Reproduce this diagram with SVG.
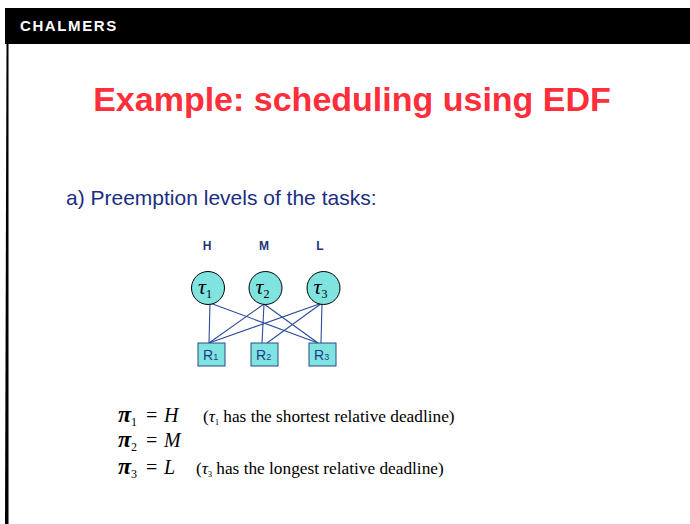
<svg xmlns="http://www.w3.org/2000/svg" width="690" height="524" viewBox="0 0 690 524">
<style>
.node circle, .node ellipse{fill:#7FE3E0;stroke:#000;stroke-width:1}
.box{fill:#7FE3E0;stroke:#2A4B8B;stroke-width:1}
.tau{font-family:"Liberation Serif",serif;font-style:italic;font-size:22px;fill:#000}
.sub{font-family:"Liberation Serif",serif;font-size:12px;font-style:normal}
.rl{font-family:"Liberation Sans",Arial,sans-serif;font-size:14px;fill:#1F3C88}
.rs{font-size:9px}
.lvl{font-family:"Liberation Sans",Arial,sans-serif;font-size:12px;font-weight:bold;fill:#1F3575;text-anchor:middle}
.edge{stroke:#2A4B9B;stroke-width:1.1;fill:none}
.f{font-family:"Liberation Serif",serif;fill:#000}
.pi{font-size:24px;font-style:italic;font-weight:bold}
.fs{font-size:12px}
.eq{font-size:20px}
.it{font-style:italic}
.par{font-size:17.3px}
.ts{font-size:8px}
</style>
<rect width="690" height="524" fill="#fff"/>
<rect x="5" y="8" width="685" height="36" fill="#000"/>
<text x="20" y="31" font-family="Liberation Sans,Arial,sans-serif" font-weight="bold" font-size="15" letter-spacing="1.6" fill="#fff">CHALMERS</text>
<path d="M6.5,44 L8.5,44 L8.5,524 L5,524 Z" fill="#000"/>
<text x="352" y="111" font-family="Liberation Sans,Arial,sans-serif" font-weight="bold" font-size="34" text-anchor="middle" fill="#FF2E3B">Example: scheduling using EDF</text>
<text x="66" y="205" font-family="Liberation Sans,Arial,sans-serif" font-size="21" fill="#1A2E80">a) Preemption levels of the tasks:</text>
<g id="levels">
<text class="lvl" x="207" y="250">H</text>
<text class="lvl" x="264" y="250">M</text>
<text class="lvl" x="320" y="250">L</text>
</g>
<g id="connectors">
<line class="edge" x1="210" y1="303" x2="209" y2="343"/>
<line class="edge" x1="210" y1="303" x2="318" y2="343"/>
<line class="edge" x1="264" y1="304" x2="209" y2="343"/>
<line class="edge" x1="264" y1="304" x2="262" y2="343"/>
<line class="edge" x1="264" y1="304" x2="318" y2="343"/>
<line class="edge" x1="322" y1="303" x2="209" y2="343"/>
<line class="edge" x1="322" y1="303" x2="267" y2="343"/>
<line class="edge" x1="322" y1="303" x2="321" y2="343"/>
</g>
<g id="tau1" class="node"><ellipse cx="208" cy="288" rx="16.5" ry="16.5"/><text class="tau" x="198" y="294">τ<tspan class="sub" dy="4">1</tspan></text></g>
<g id="tau2" class="node"><ellipse cx="265.5" cy="288" rx="16.5" ry="16.5"/><text class="tau" x="255.5" y="294">τ<tspan class="sub" dy="4">2</tspan></text></g>
<g id="tau3" class="node"><ellipse cx="323.5" cy="288" rx="16.5" ry="16.5"/><text class="tau" x="313.5" y="294">τ<tspan class="sub" dy="4">3</tspan></text></g>
<g id="R1"><rect class="box" x="198" y="343" width="27" height="23"/><text class="rl" x="203" y="360">R<tspan class="rs">1</tspan></text></g>
<g id="R2"><rect class="box" x="251" y="343" width="27" height="23"/><text class="rl" x="256" y="360">R<tspan class="rs">2</tspan></text></g>
<g id="R3"><rect class="box" x="309" y="343" width="27" height="23"/><text class="rl" x="314" y="360">R<tspan class="rs">3</tspan></text></g>
<g id="formulas">
<text class="f" x="118" y="422"><tspan class="pi">π</tspan><tspan class="fs" dy="4">1</tspan></text>
<text class="f eq" x="146" y="422">=</text>
<text class="f eq it" x="164" y="422">H</text>
<text class="f par" x="203" y="422">(<tspan class="it">τ</tspan><tspan class="ts" dy="3">1</tspan><tspan dy="-3"> has the shortest relative deadline)</tspan></text>
<text class="f" x="118" y="447"><tspan class="pi">π</tspan><tspan class="fs" dy="4">2</tspan></text>
<text class="f eq" x="146" y="447">=</text>
<text class="f eq it" x="164" y="447">M</text>
<text class="f" x="118" y="474"><tspan class="pi">π</tspan><tspan class="fs" dy="4">3</tspan></text>
<text class="f eq" x="146" y="474">=</text>
<text class="f eq it" x="164" y="474">L</text>
<text class="f par" x="196" y="474">(<tspan class="it">τ</tspan><tspan class="ts" dy="3">3</tspan><tspan dy="-3"> has the longest relative deadline)</tspan></text>
</g>
</svg>
